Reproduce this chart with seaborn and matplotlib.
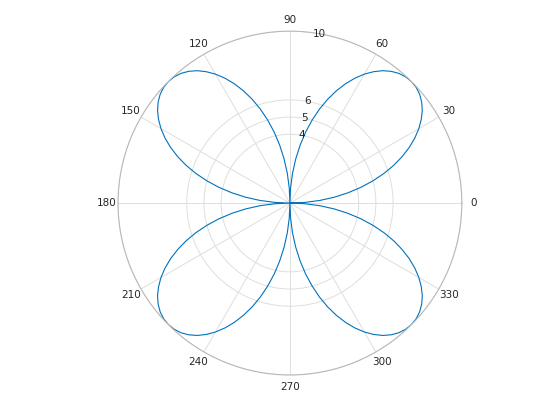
import numpy as np
import pandas as pd
import matplotlib
matplotlib.use("Agg")
import matplotlib.pyplot as plt
import seaborn as sns

# One petal, radius read at 2.5 degree steps from 0 to 90 degrees
petal_r = [0.0, 0.87, 1.74, 2.59, 3.42, 4.23, 5.0, 5.74, 6.43, 7.07, 7.66, 8.19,
           8.66, 9.06, 9.40, 9.66, 9.85, 9.96, 10.0, 9.96, 9.85, 9.66, 9.40, 9.06,
           8.66, 8.19, 7.66, 7.07, 6.43, 5.74, 5.0, 4.23, 3.42, 2.59, 1.74, 0.87]
angles_deg = list(np.arange(0, 360, 2.5)) + [360.0]
radius = petal_r * 4 + [0.0]

r_ticks = [4, 5, 6, 10]
theta_ticks = list(range(0, 360, 30))

sns.set_style("white")
plt.rcParams['font.family'] = ['DejaVu Sans']

df = pd.DataFrame({"theta": np.deg2rad(angles_deg), "r": radius})

fig = plt.figure(figsize=(5.6, 4.2), dpi=100)
ax = fig.add_axes([0.2107, 0.107, 0.614, 0.819], projection='polar')
sns.lineplot(data=df, x="theta", y="r", sort=False, estimator=None,
             color="#0072BD", linewidth=0.8, ax=ax)
ax.set_xlabel("")
ax.set_ylabel("")
ax.set_ylim(0, 10)
ax.set_rticks(r_ticks)
ax.set_yticklabels([])
for t in r_ticks:
    ax.text(np.deg2rad(80), t, str(t), ha='center', va='center',
            fontsize=7.5, color="#262626")
ax.set_thetagrids(theta_ticks, [str(t) for t in theta_ticks], fontsize=7.5, color="#262626")
ax.tick_params(axis='x', pad=-2.2)
ax.grid(True, color="#dedede", linewidth=0.7)
ax.spines['polar'].set_color("#b8b8b8")
ax.spines['polar'].set_linewidth(0.8)
fig.savefig("out.png", dpi=100)
